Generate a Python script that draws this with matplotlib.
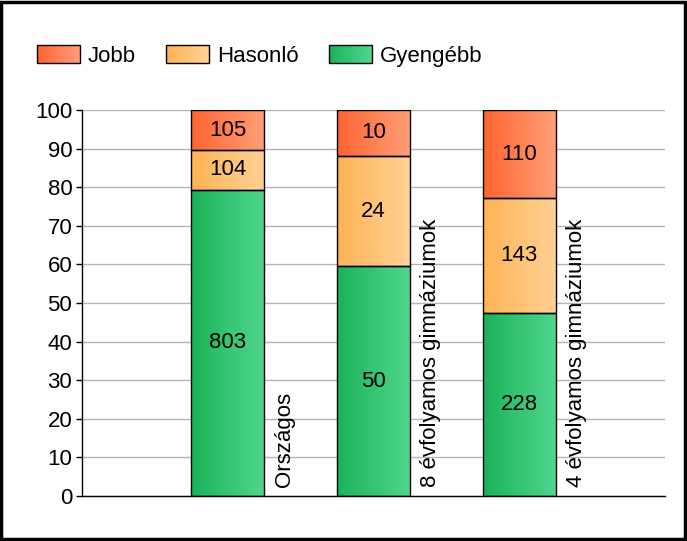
import matplotlib
matplotlib.use("Agg")
import matplotlib.pyplot as plt
import numpy as np
from matplotlib.patches import Rectangle
from matplotlib.legend_handler import HandlerBase
from matplotlib.colors import LinearSegmentedColormap

plt.rcParams['font.family'] = ['Liberation Sans', 'DejaVu Sans']

categories = ["Országos", "8 évfolyamos gimnáziumok", "4 évfolyamos gimnáziumok"]
series_names = ["Jobb", "Hasonló", "Gyengébb"]
gyengebb = [803, 50, 228]
hasonlo = [104, 24, 143]
jobb = [105, 10, 110]
y_ticks = [0, 10, 20, 30, 40, 50, 60, 70, 80, 90, 100]

grad = {
    "Gyengébb": ("#1cb259", "#4fd68f"),
    "Hasonló": ("#ffb355", "#ffd194"),
    "Jobb": ("#ff6430", "#ff9e78"),
}

fig = plt.figure(figsize=(6.87, 5.41), dpi=100)
ax = fig.add_axes([82/687, 1-496/541, (665-82)/687, (496-110)/541])

totals = np.array(gyengebb) + np.array(hasonlo) + np.array(jobb)
x = np.arange(1, len(categories) + 1)
width = 0.5
FS = 16

bottom = np.zeros(len(categories))
for name, vals in [("Gyengébb", gyengebb), ("Hasonló", hasonlo), ("Jobb", jobb)]:
    pct = np.array(vals) / totals * 100
    bars = ax.bar(x, pct, width, bottom=bottom, facecolor='none',
                  edgecolor='black', linewidth=1, zorder=3)
    cmap = LinearSegmentedColormap.from_list(name, grad[name])
    for b, v, p, bt in zip(bars, vals, pct, bottom):
        x0, y0 = b.get_x(), b.get_y()
        im = ax.imshow(np.linspace(0, 1, 256).reshape(1, -1), cmap=cmap,
                       extent=[x0, x0 + b.get_width(), y0, y0 + b.get_height()],
                       aspect='auto', zorder=2, interpolation='bicubic')
        im.set_clip_path(b)
        ax.text(x0 + b.get_width()/2, bt + p/2, str(v), ha='center', va='center',
                fontsize=FS, zorder=4)
    bottom = bottom + pct

for xi, cat in zip(x, categories):
    ax.text(xi + width/2 + 0.07, 2.3, cat, rotation=90, ha='left', va='bottom',
            fontsize=FS, zorder=4)

ax.set_xlim(0, 4)
ax.set_ylim(0, 100)
ax.set_yticks(y_ticks)
ax.set_yticklabels([str(t) for t in y_ticks], fontsize=FS)
ax.set_xticks([])
ax.yaxis.grid(True, color='#b4b4b4', linewidth=1, zorder=0)
ax.set_axisbelow(True)
for s in ['top', 'right']:
    ax.spines[s].set_visible(False)
ax.spines['left'].set_linewidth(1)
ax.spines['bottom'].set_linewidth(1)
ax.tick_params(axis='y', length=4, width=1, pad=3)


class GradHandler(HandlerBase):
    def __init__(self, c0, c1):
        super().__init__()
        self.c0, self.c1 = c0, c1

    def create_artists(self, legend, orig_handle, xdescent, ydescent, width, height, fontsize, trans):
        cmap = LinearSegmentedColormap.from_list('g', [self.c0, self.c1])
        n = 30
        arts = []
        for i in range(n):
            r = Rectangle((-xdescent + width*i/n, -ydescent), width/n + 0.3, height,
                          facecolor=cmap(i/(n-1)), edgecolor='none', transform=trans)
            arts.append(r)
        arts.append(Rectangle((-xdescent, -ydescent), width, height, facecolor='none',
                              edgecolor='black', linewidth=1, transform=trans))
        return arts


handles = [Rectangle((0, 0), 1, 1) for _ in series_names]
hmap = {h: GradHandler(*grad[n]) for h, n in zip(handles, series_names)}
fig.legend(handles, series_names, handler_map=hmap, loc='center left',
           bbox_to_anchor=(37/687, 1-56/541), ncol=3, frameon=False, fontsize=FS,
           handlelength=1.94, handleheight=0.85, handletextpad=0.36, columnspacing=1.35,
           borderpad=0, borderaxespad=0)

border = Rectangle((0.002, 0.003), 0.995, 0.994, transform=fig.transFigure,
                   facecolor='none', edgecolor='black', linewidth=2.5)
fig.patches.append(border)

fig.savefig("out.png", dpi=100)
